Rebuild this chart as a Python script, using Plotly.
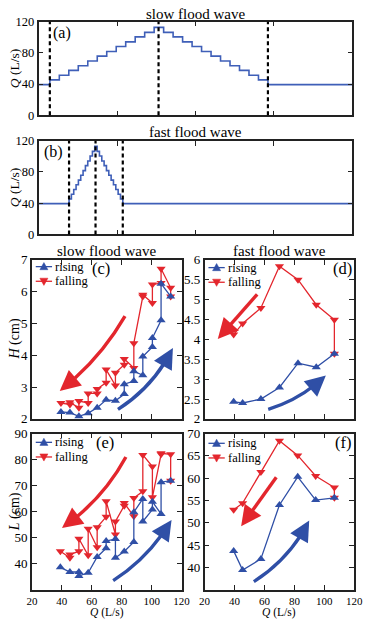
import plotly.graph_objects as go

FONT = "Liberation Serif, Times New Roman, DejaVu Serif, serif"
BLUE = "#2f4fa6"
RED = "#e3262d"
STEP_BLUE = "#3f5fb8"
W, H = 370, 627

# ---------------- data ----------------
# discharge step levels (L/s) of the hydrograph, rising limb incl. peak
q_levels = [45.4, 51.4, 57.6, 63.6, 69.6, 75.8, 81.7, 88.1, 94.1, 100.5, 106.3, 112.7]
q_base = 39.4
t_end = 8.0
slow_start, slow_step = 0.286, 0.2418
fast_start, fast_step = 0.776, 0.0596
slow_marks = [0.286, 3.058, 5.847]
fast_marks = [0.776, 1.451, 2.146]

# (c) slow wave, H vs Q
Qr_c = [39.4, 45.4, 51.4, 57.6, 63.6, 69.6, 75.8, 81.7, 81.7, 88.1, 88.1, 94.1, 94.1, 100.5, 100.5, 106.3, 106.3, 112.7]
Hr_c = [2.22, 2.20, 2.08, 2.18, 2.35, 2.60, 2.57, 2.78, 3.09, 3.19, 3.50, 3.37, 3.96, 4.26, 4.54, 5.10, 6.25, 5.85]
Qf_c = [112.7, 112.7, 106.3, 106.3, 100.5, 100.5, 94.1, 94.1, 88.1, 88.1, 81.7, 81.7, 75.8, 75.8, 69.6, 69.6, 63.6, 63.6, 57.6, 57.6, 51.4, 51.4, 45.4, 45.4, 39.4]
Hf_c = [5.85, 6.12, 6.72, 6.27, 6.22, 5.64, 5.90, 5.85, 4.38, 3.60, 3.88, 3.70, 3.45, 3.05, 3.55, 3.14, 2.94, 2.80, 2.80, 2.50, 2.56, 2.35, 2.52, 2.45, 2.50]

# (d) fast wave, H vs Q
Qr_d = [39.4, 45.4, 57.6, 70.0, 82.4, 94.6, 106.7]
Hr_d = [2.43, 2.40, 2.50, 2.79, 3.40, 3.30, 3.64]
Qf_d = [106.7, 106.7, 94.6, 82.4, 70.0, 57.6, 45.4, 39.4]
Hf_d = [3.64, 4.49, 4.87, 5.50, 5.84, 4.79, 4.40, 4.12]

# (e) slow wave, L vs Q
Qr_e = [39.0, 45.4, 51.4, 51.4, 57.6, 63.6, 69.6, 69.6, 75.8, 75.8, 81.7, 88.1, 88.1, 94.1, 94.1, 100.5, 100.5, 106.3, 106.3, 112.7]
Lr_e = [38.6, 36.8, 36.8, 35.3, 36.5, 42.6, 45.9, 48.7, 49.5, 42.3, 44.7, 48.3, 59.8, 64.9, 56.2, 60.8, 63.8, 59.1, 71.3, 71.9]
Qf_e = [112.7, 112.7, 106.3, 106.3, 100.5, 100.5, 94.1, 94.1, 88.1, 88.1, 81.7, 81.7, 75.8, 75.8, 69.6, 69.6, 63.6, 63.6, 57.6, 57.6, 51.4, 51.4, 45.4, 45.4, 39.0]
Lf_e = [71.9, 82.0, 82.4, 82.0, 65.5, 77.3, 81.8, 67.8, 65.2, 58.2, 63.3, 62.3, 56.2, 51.2, 64.0, 58.0, 54.0, 46.3, 53.4, 43.2, 49.6, 44.8, 43.5, 42.3, 44.8]

# (f) fast wave, L vs Q
Qr_f = [39.4, 45.4, 57.6, 70.0, 82.2, 94.2, 106.7]
Lr_f = [43.7, 39.4, 41.9, 54.0, 60.3, 55.1, 55.6]
Qf_f = [106.7, 106.7, 94.2, 82.2, 70.0, 57.6, 45.4, 39.4]
Lf_f = [55.6, 57.9, 60.5, 65.1, 68.4, 61.4, 54.4, 52.9]

series_names = ["rising", "falling"]

# ---------------- figure ----------------
fig = go.Figure()


def dom_x(a, b):
    return [a / W, b / W]


def dom_y(top, bottom):
    return [1 - bottom / H, 1 - top / H]


def step_series(start, step):
    seq = [q_base] + q_levels + q_levels[-2::-1] + [q_base, q_base]
    n = len(q_levels) + len(q_levels) - 1
    t = [0.0] + [start + k * step for k in range(n + 1)] + [t_end]
    return t, seq


for ax_i, (start, step, marks) in enumerate([(slow_start, slow_step, slow_marks),
                                            (fast_start, fast_step, fast_marks)], start=1):
    t, q = step_series(start, step)
    xa = "x" if ax_i == 1 else "x2"
    ya = "y" if ax_i == 1 else "y2"
    fig.add_trace(go.Scatter(x=t, y=q, mode="lines", line=dict(color=STEP_BLUE, width=1.6, shape="hv"),
                             xaxis=xa, yaxis=ya, showlegend=False, hoverinfo="skip"))
    for m in marks:
        fig.add_shape(type="line", xref=xa, yref=ya + " domain", x0=m, x1=m, y0=0, y1=1,
                      line=dict(color="black", width=2.2, dash="4px,3px"))

panels = [
    ("x3", "y3", Qr_c, Hr_c, Qf_c, Hf_c),
    ("x4", "y4", Qr_d, Hr_d, Qf_d, Hf_d),
    ("x5", "y5", Qr_e, Lr_e, Qf_e, Lf_e),
    ("x6", "y6", Qr_f, Lr_f, Qf_f, Lf_f),
]
for xa, ya, qr, vr, qf, vf in panels:
    fig.add_trace(go.Scatter(x=qf, y=vf, mode="lines+markers", name=series_names[1], showlegend=False,
                             line=dict(color=RED, width=1.3),
                             marker=dict(symbol="triangle-down", size=8, color=RED),
                             xaxis=xa, yaxis=ya))
    fig.add_trace(go.Scatter(x=qr, y=vr, mode="lines+markers", name=series_names[0], showlegend=False,
                             line=dict(color=BLUE, width=1.3),
                             marker=dict(symbol="triangle-up", size=8, color=BLUE),
                             xaxis=xa, yaxis=ya))

# trend arrows (start, control, tip) in data units
arrows = [
    ("x3", "y3", RED, (82.2, 5.23), (65.2, 3.85), (38.6, 2.88)),
    ("x3", "y3", BLUE, (77.5, 2.30), (101.5, 3.02), (114.2, 4.23)),
    ("x4", "y4", RED, (55.1, 5.13), (42.0, 4.57), (28.8, 4.01)),
    ("x4", "y4", BLUE, (62.5, 2.24), (84.3, 2.49), (101.0, 3.09)),
    ("x5", "y5", RED, (82.8, 81.0), (67.2, 64.5), (40.1, 53.7)),
    ("x5", "y5", BLUE, (74.3, 33.5), (98.2, 42.3), (113.3, 56.8)),
    ("x6", "y6", RED, (67.9, 60.2), (56.2, 54.7), (44.4, 49.2)),
    ("x6", "y6", BLUE, (52.9, 36.8), (77.1, 42.0), (89.9, 50.5)),
]
ts = 0.8
for xa, ya, col, p0, p1, p2 in arrows:
    b = [(1 - ts) ** 2 * p0[i] + 2 * (1 - ts) * ts * p1[i] + ts ** 2 * p2[i] for i in range(2)]
    c1 = [(1 - ts) * p0[i] + ts * p1[i] for i in range(2)]
    path = f"M{p0[0]},{p0[1]} Q{c1[0]},{c1[1]} {b[0]},{b[1]}"
    fig.add_shape(type="path", path=path, xref=xa, yref=ya, line=dict(color=col, width=3.4))
    fig.add_annotation(x=p2[0], y=p2[1], ax=b[0], ay=b[1], xref=xa, yref=ya, axref=xa, ayref=ya,
                       text="", showarrow=True, arrowhead=2, arrowsize=1.2, arrowwidth=3.4,
                       arrowcolor=col)

axis_common = dict(showline=True, linecolor="#222", linewidth=1.6, mirror="ticks", ticks="inside",
                   ticklen=5, tickwidth=1.3, tickcolor="#222", showgrid=False, zeroline=False,
                   tickfont=dict(family=FONT, size=13, color="black"))
xtick_bottom = dict(family=FONT, size=11, color="black")

lay = dict(
    width=W, height=H, margin=dict(l=0, r=0, t=0, b=0),
    paper_bgcolor="white", plot_bgcolor="white",
    font=dict(family=FONT, color="black"),
    showlegend=False,
    xaxis=dict(axis_common, domain=dom_x(34, 361), anchor="y", range=[0, t_end], tickvals=[0, 2, 4, 6, 8],
               showticklabels=False),
    yaxis=dict(axis_common, domain=dom_y(15, 111), anchor="x", range=[0, 120], tickvals=[0, 40, 80, 120],
               tickfont=dict(family=FONT, size=12.5, color="black")),
    xaxis2=dict(axis_common, domain=dom_x(34, 361), anchor="y2", range=[0, t_end], tickvals=[0, 2, 4, 6, 8],
                showticklabels=False),
    yaxis2=dict(axis_common, domain=dom_y(137, 233), anchor="x2", range=[0, 120], tickvals=[0, 40, 80, 120],
                tickfont=dict(family=FONT, size=12.5, color="black")),
    xaxis3=dict(axis_common, domain=dom_x(27, 183), anchor="y3", range=[20, 120], dtick=20, showticklabels=False),
    yaxis3=dict(axis_common, domain=dom_y(259, 422), anchor="x3", range=[2, 7], dtick=1),
    xaxis4=dict(axis_common, domain=dom_x(207, 363), anchor="y4", range=[20, 120], dtick=20, showticklabels=False),
    yaxis4=dict(axis_common, domain=dom_y(259, 422), anchor="x4", range=[2, 6], dtick=0.5),
    xaxis5=dict(axis_common, domain=dom_x(27, 183), anchor="y5", range=[20, 120], dtick=20, tickfont=xtick_bottom),
    yaxis5=dict(axis_common, domain=dom_y(437, 597), anchor="x5", range=[30, 90], tickvals=[40, 50, 60, 70, 80, 90]),
    xaxis6=dict(axis_common, domain=dom_x(207, 363), anchor="y6", range=[20, 120], dtick=20, tickfont=xtick_bottom),
    yaxis6=dict(axis_common, domain=dom_y(437, 597), anchor="x6", range=[35, 70], tickvals=[40, 45, 50, 55, 60, 65, 70]),
)
fig.update_layout(**lay)


def txt(s, xpx, ypx, size, angle=0, xanchor="center", yanchor="middle"):
    fig.add_annotation(text=s, x=xpx / W, y=1 - ypx / H, xref="paper", yref="paper", showarrow=False,
                       font=dict(family=FONT, size=size, color="black"), textangle=angle,
                       xanchor=xanchor, yanchor=yanchor, borderpad=0)


# hand-placed legend keys (line + triangle + label) in each lower panel
def legend_row(x0, y0, color, up, label):
    fig.add_shape(type="line", xref="paper", yref="paper", x0=x0 / W, x1=(x0 + 17) / W,
                  y0=1 - y0 / H, y1=1 - y0 / H, line=dict(color=color, width=1.3))
    cx, s = x0 + 8.5, 4.2
    if up:
        pts = [(cx, y0 - s), (cx - s, y0 + s * 0.75), (cx + s, y0 + s * 0.75)]
    else:
        pts = [(cx, y0 + s), (cx - s, y0 - s * 0.75), (cx + s, y0 - s * 0.75)]
    path = "M" + " L".join(f"{px / W},{1 - py / H}" for px, py in pts) + " Z"
    fig.add_shape(type="path", xref="paper", yref="paper", path=path, fillcolor=color,
                  line=dict(color=color, width=0.5))
    txt(label, x0 + 19, y0, 12.5, xanchor="left")


for lx, ly in [(31, 266), (211, 267), (31, 446), (211, 447)]:
    legend_row(lx, ly, BLUE, True, series_names[0])
    legend_row(lx, ly + 15, RED, False, series_names[1])

txt("slow flood wave", 197, 7, 15)
txt("fast flood wave", 197, 128, 15)
txt("slow flood wave", 105, 250, 15)
txt("fast flood wave", 285, 250, 15)
txt("(a)", 58, 27, 16)
txt("(b)", 50, 149, 16)
txt("(c)", 99, 268, 16.5)
txt("(d)", 351, 268, 16.5)
txt("(e)", 103, 446, 16.5)
txt("(f)", 351, 446, 16.5)
txt("<i>Q</i> (L/s)", 9, 63, 13.5, -90)
txt("<i>Q</i> (L/s)", 9, 185, 13.5, -90)
txt("<i>H</i> (cm)", 9, 340, 14, -90)
txt("<i>L</i> (cm)", 9, 517, 14, -90)
txt("<i>Q</i> (L/s)", 105, 628, 11.5, yanchor="bottom")
txt("<i>Q</i> (L/s)", 285, 628, 11.5, yanchor="bottom")

fig.write_html("out.html", config={"displayModeBar": False})
